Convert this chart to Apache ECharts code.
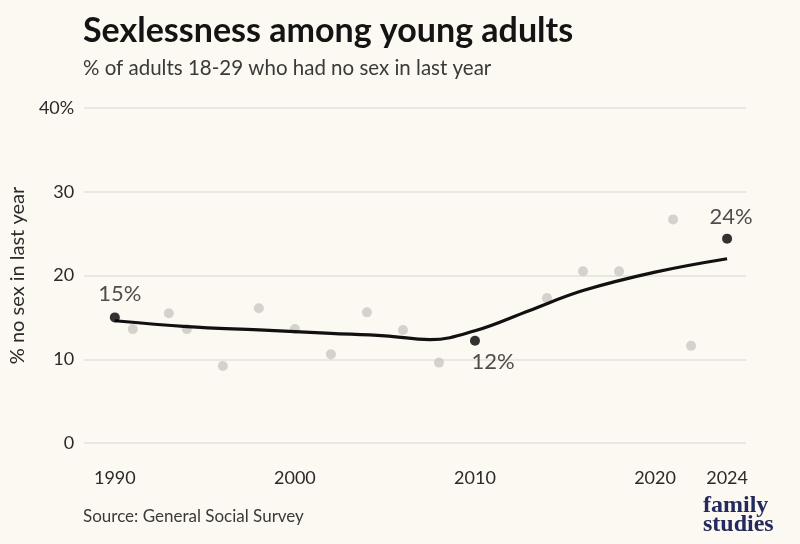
<!DOCTYPE html>
<html>
<head>
<meta charset="utf-8">
<script src="https://cdn.jsdelivr.net/npm/echarts@6/dist/echarts.min.js"></script>
<style>
html,body{margin:0;padding:0;background:#fcf8f2;}
#c{width:800px;height:544px;}
</style>
</head>
<body>
<div id="c"></div>
<script>
// Survey years (grey dots) and values (% with no sex in last year)
const surveyYears = [1991, 1993, 1994, 1996, 1998, 2000, 2002, 2004, 2006, 2008, 2014, 2016, 2018, 2021, 2022];
const surveyValues = [13.6, 15.5, 13.6, 9.2, 16.1, 13.6, 10.6, 15.6, 13.5, 9.6, 17.3, 20.5, 20.5, 26.7, 11.6];

// Highlighted years
const highlightYears = [1990, 2010, 2024];
const highlightValues = [15.0, 12.2, 24.4];
const highlightLabels = ['15%', '12%', '24%'];

// Smoothed trend
const trendYears = [1990, 1994, 1998, 2002, 2005, 2007.5, 2010, 2013, 2016, 2020, 2024];
const trendValues = [14.6, 13.9, 13.5, 13.1, 12.8, 12.35, 13.4, 15.8, 18.2, 20.4, 22.0];

// Axis ticks
const xTickYears = [1990, 2000, 2010, 2020, 2024];
const yTicks = [0, 10, 20, 30, 40];

const chart = echarts.init(document.getElementById('c'));
const FONT = 'Lato';

const labelPos = [
  {position: 'top', distance: 7, offset: [5, 0]},
  {position: 'bottom', distance: 5, offset: [18, 0]},
  {position: 'top', distance: 6, offset: [4, 0]}
];

chart.setOption({
  backgroundColor: '#fcf8f2',
  animation: false,
  title: [
    {text: 'Sexlessness among young adults', left: 78, top: 9,
     textStyle: {fontFamily: FONT, fontWeight: 'bold', fontSize: 34, color: '#141414'}},
    {text: '% of adults 18-29 who had no sex in last year', left: 78, top: 53,
     textStyle: {fontFamily: FONT, fontWeight: 'normal', fontSize: 20.5, color: '#3a3a3a'}},
    {text: 'Source: General Social Survey', left: 78, top: 503,
     textStyle: {fontFamily: FONT, fontWeight: 'normal', fontSize: 17, color: '#3a3a3a'}}
  ],
  graphic: [
    {type: 'text', left: 703, top: 494,
     style: {text: 'family\nstudies', font: 'bold 24px "Liberation Serif"', fill: '#232a5c',
             lineHeight: 19, align: 'center'}}
  ],
  grid: {left: 82, right: 54, top: 108, bottom: 101, containLabel: false},
  xAxis: {
    type: 'value', min: 1988.3, max: 2025.05,
    splitLine: {show: false}, axisLine: {show: false}, axisTick: {show: false},
    axisLabel: {customValues: xTickYears, fontFamily: FONT, fontSize: 18, color: '#2a2a2a', margin: 26,
                formatter: v => String(v)}
  },
  yAxis: {
    type: 'value', min: 0, max: 40, interval: 10,
    name: '% no sex in last year', nameLocation: 'middle', nameGap: 51, nameRotate: 90,
    nameTextStyle: {fontFamily: FONT, fontSize: 20, color: '#2a2a2a'},
    axisLine: {show: false}, axisTick: {show: false},
    splitLine: {lineStyle: {color: '#e4e1dc', width: 1.5}},
    axisLabel: {fontFamily: FONT, fontSize: 18, color: '#2a2a2a', margin: 10,
                formatter: v => v === 40 ? '40%' : String(v)}
  },
  series: [
    {
      type: 'scatter', symbolSize: 10, z: 2,
      itemStyle: {color: '#cbc8c4'},
      data: surveyYears.map((y, i) => [y, surveyValues[i]])
    },
    {
      type: 'line', smooth: 0.4, showSymbol: false, z: 3,
      lineStyle: {color: '#111', width: 3.2},
      data: trendYears.map((y, i) => [y, trendValues[i]])
    },
    {
      type: 'scatter', symbolSize: 10, z: 4,
      itemStyle: {color: '#000'},
      data: highlightYears.map((y, i) => ({
        value: [y, highlightValues[i]],
        label: Object.assign({show: true, formatter: highlightLabels[i],
          fontFamily: FONT, fontSize: 22, color: '#222'}, labelPos[i])
      }))
    }
  ]
});
</script>
</body>
</html>
